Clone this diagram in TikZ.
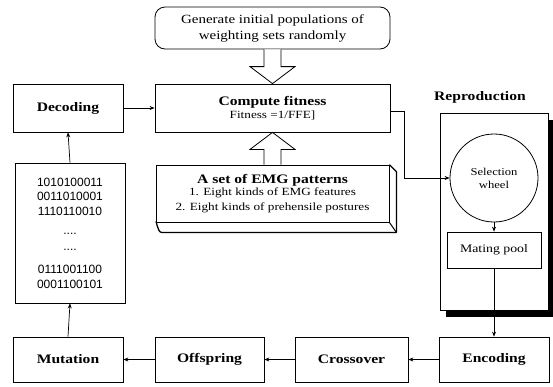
\documentclass[tikz,border=0pt]{standalone}
\usepackage{fontspec}
\setmainfont{Liberation Serif}[FakeStretch=1.2]
\newfontfamily\binfont{Liberation Sans}
\usetikzlibrary{arrows.meta, positioning, calc, shadows}
\newcommand{\plain}{\mdseries\fontsize{11}{14}\selectfont}
\tikzset{
  stage/.style  = {rectangle, draw=black, line width=0.8pt, fill=white,
                   text centered, inner sep=2pt,
                   font=\fontsize{13}{15}\selectfont\bfseries},
  note/.style   = {font=\fontsize{11.5}{14}\selectfont, align=center},
  arrow/.style  = {-{Stealth[length=5pt,width=4pt]}, line width=0.7pt},
  hollow/.style = {draw=black, line width=0.8pt, fill=white, line join=miter},
}

\begin{document}
\begin{tikzpicture}[x=1pt, y=-1pt]
  \useasboundingbox (0,0) rectangle (553,386);

  % Top row – initial population and fitness
  \node[stage, rounded corners=10pt, minimum width=235, minimum height=42,
        note, font=\fontsize{12.5}{16}\selectfont] (gen) at (272.5,28)
        {Generate initial populations of\\weighting sets randomly};
  \node[stage, minimum width=235, minimum height=48, align=center] (fit) at (272.5,108)
        {Compute fitness\\[-2pt]\plain Fitness =1/FFE]};
  \node[stage, minimum width=110, minimum height=48] (dec) at (68,108) {Decoding};

  % EMG patterns (slab)
  \node[stage, minimum width=233, minimum height=57, align=center] (emg) at (272.5,193.5)
        {A set of EMG patterns\\[-3pt]\plain 1. Eight kinds of EMG features\\
         \plain 2. Eight kinds of prehensile postures};
  \draw[line width=1.3pt, line join=round] (emg.north east) -- ++(7,7)
        -- ($(emg.south east)+(7,10)$) -- ($(emg.south west)+(6,10)$)
        to[out=180, in=80] (emg.south west);
  \draw[line width=1pt] (emg.south east) -- ++(7,10);

  % Chromosome strings
  \node[stage, minimum width=110, minimum height=140, align=center,
        font=\binfont\fontsize{12}{14.5}\selectfont] (bin) at (70,233)
        {1010100011\\0011010001\\1110110010\\[5pt]....\\[1pt]....\\[9pt]0111001100\\0001100101};

  % Reproduction
  \node[stage, minimum width=108, minimum height=197,
        drop shadow={shadow xshift=5.5pt, shadow yshift=-6.5pt, fill=black, opacity=1}]
        (rep) at (494,211.5) {};
  \node[stage, draw=none, fill=none] (replabel) at (480,97) {Reproduction};
  \node[circle, draw, line width=0.8pt, minimum size=88, note,
        font=\fontsize{10.5}{13}\selectfont] (wheel) at (494,178) {Selection\\wheel};
  \node[stage, minimum width=94, minimum height=36,
        font=\fontsize{11.5}{14}\selectfont] (pool) at (494,250) {Mating pool};

  % Bottom row – genetic operators
  \node[stage, minimum width=110, minimum height=45] (mut) at (68,359.5)  {Mutation};
  \node[stage, minimum width=109, minimum height=45] (off) at (209.5,359.5) {Offspring};
  \node[stage, minimum width=113, minimum height=45] (cro) at (351.5,359.5) {Crossover};
  \node[stage, minimum width=110, minimum height=45] (enc) at (494,359.5) {Encoding};

  % Hollow arrows into fitness
  \draw[hollow] ($(gen.south)+(-8.5,0)$) -- ($(fit.north)+(-8.5,-17)$)
        -- ($(fit.north)+(-22.5,-17)$) -- (fit.north) -- ($(fit.north)+(22.5,-17)$)
        -- ($(fit.north)+(8.5,-17)$) -- ($(gen.south)+(8.5,0)$);
  \draw[hollow] ($(emg.north)+(-8.5,0)$) -- ($(fit.south)+(-8.5,17)$)
        -- ($(fit.south)+(-22.5,17)$) -- (fit.south) -- ($(fit.south)+(22.5,17)$)
        -- ($(fit.south)+(8.5,17)$) -- ($(emg.north)+(8.5,0)$);

  % Arrows: loop
  \draw[arrow] (dec.east) -- (fit.west);
  \draw[arrow] (fit.east) ++(0,3) -- ++(14,0) |- (wheel.west);
  \draw[arrow] (wheel.south) -- (pool.north);
  \draw[arrow] (pool.south) -- (pool.south |- enc.north);
  \draw[arrow] (enc.west) -- (cro.east);
  \draw[arrow] (cro.west) -- (off.east);
  \draw[arrow] (off.west) -- (mut.east);
  \draw[arrow] (mut.north) -- (bin.south);
  \draw[arrow] (bin.north) -- (dec.south);
\end{tikzpicture}
\end{document}
